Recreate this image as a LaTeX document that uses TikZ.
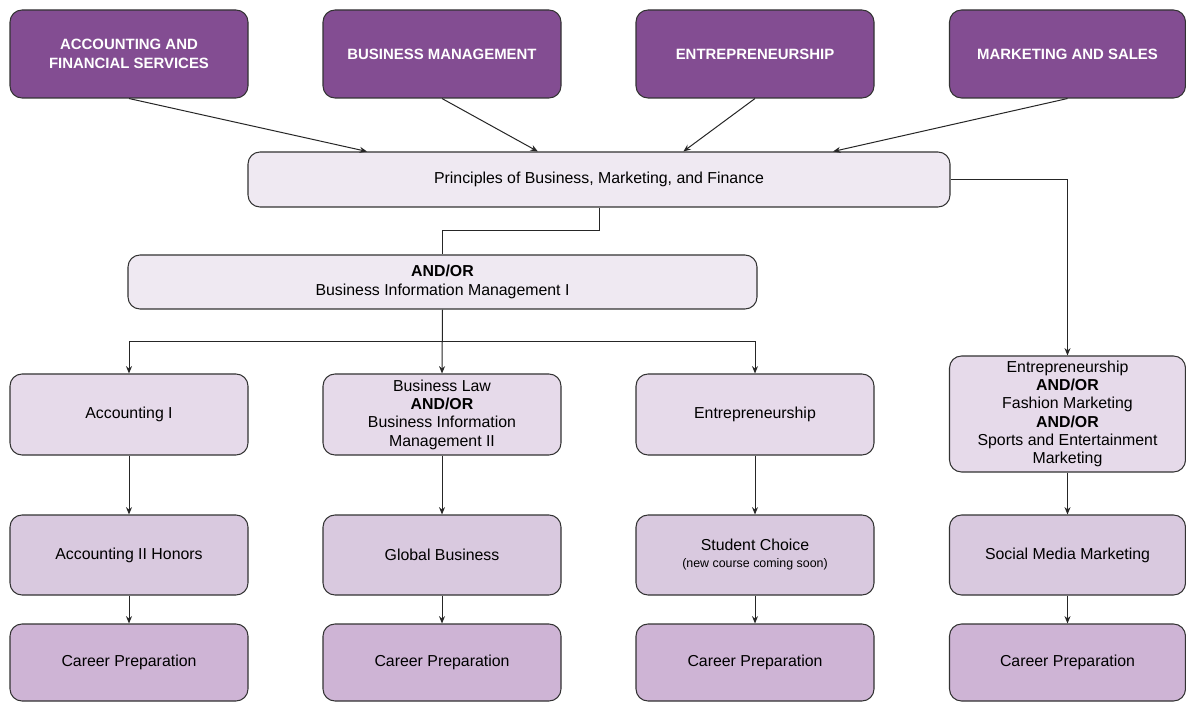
\documentclass[tikz,border=0pt]{standalone}
\usepackage{fontspec}
\setmainfont{Liberation Sans}
\usetikzlibrary{arrows.meta,calc}
\definecolor{topfill}{HTML}{834D92}
\definecolor{lightfill}{HTML}{EFE9F2}
\definecolor{rowtwo}{HTML}{E6DAEA}
\definecolor{rowthree}{HTML}{D9C9DF}
\definecolor{rowfour}{HTML}{CEB4D5}
\definecolor{edge}{HTML}{333333}
\begin{document}
\begin{tikzpicture}[x=0.75pt,y=-0.75pt,
  box/.style={draw=edge, line width=0.8pt, rounded corners=9pt, align=center, inner sep=0pt,
    font=\fontsize{11.9}{13.7}\selectfont},
  topbox/.style={box, fill=topfill, text=white, font=\fontsize{11.2}{14.2}\selectfont\bfseries,
    minimum width=178.5pt, minimum height=66pt},
  widebox/.style={box, fill=lightfill},
  colbox/.style={box, minimum width=178.5pt},
  arr/.style={-{Stealth[length=5.5pt,width=4.5pt]}, line width=0.75pt, draw=black!85},
  ln/.style={line width=0.75pt, draw=black!85}
]
\fill[white] (0,0) rectangle (1186,702);
\useasboundingbox (0,0) rectangle (1186,702);

% top row
\node[topbox] (t1) at (129,54) {ACCOUNTING AND\\FINANCIAL SERVICES};
\node[topbox] (t2) at (442,54) {BUSINESS MANAGEMENT};
\node[topbox] (t3) at (755,54) {ENTREPRENEURSHIP};
\node[topbox, minimum width=177pt] (t4) at (1067.5,54) {MARKETING AND SALES};

% wide boxes
\node[widebox, minimum width=526.5pt, minimum height=41.25pt] (pr) at (599,179.5)
  {Principles of Business, Marketing, and Finance};
\node[widebox, minimum width=471.75pt, minimum height=40.5pt] (ao) at (442.5,282)
  {\textbf{AND/OR}\\Business Information Management I};

% row two
\node[colbox, fill=rowtwo, minimum height=60.75pt] (a1) at (129,414.5) {Accounting I};
\node[colbox, fill=rowtwo, minimum height=60.75pt] (b1) at (442,414.5)
  {Business Law\\\textbf{AND/OR}\\Business Information\\Management II};
\node[colbox, fill=rowtwo, minimum height=60.75pt] (e1) at (755,414.5) {Entrepreneurship};
\node[colbox, fill=rowtwo, minimum width=177pt, minimum height=87pt] (m1) at (1067.5,414)
  {Entrepreneurship\\\textbf{AND/OR}\\Fashion Marketing\\\textbf{AND/OR}\\Sports and Entertainment\\Marketing};

% row three
\node[colbox, fill=rowthree, minimum height=60pt] (a2) at (129,555) {Accounting II Honors};
\node[colbox, fill=rowthree, minimum height=60pt] (b2) at (442,555) {Global Business};
\node[colbox, fill=rowthree, minimum height=60pt] (e2) at (755,555)
  {Student Choice\\[-1pt]{\fontsize{9.3}{11}\selectfont (new course coming soon)}};
\node[colbox, fill=rowthree, minimum width=177pt, minimum height=60pt] (m2) at (1067.5,555)
  {Social Media Marketing};

% row four
\node[colbox, fill=rowfour, minimum height=57.75pt] (a3) at (129,662.5) {Career Preparation};
\node[colbox, fill=rowfour, minimum height=57.75pt] (b3) at (442,662.5) {Career Preparation};
\node[colbox, fill=rowfour, minimum height=57.75pt] (e3) at (755,662.5) {Career Preparation};
\node[colbox, fill=rowfour, minimum width=177pt, minimum height=57.75pt] (m3) at (1067.5,662.5)
  {Career Preparation};

% connectors from top row
\draw[arr] (t1.south) -- ($(pr.north west)!0.170!(pr.north east)$);
\draw[arr] (t2.south) -- ($(pr.north west)!0.413!(pr.north east)$);
\draw[arr] (t3.south) -- ($(pr.north west)!0.620!(pr.north east)$);
\draw[arr] (t4.south) -- ($(pr.north west)!0.833!(pr.north east)$);

% principles to AND/OR box
\coordinate (k1) at ($(pr.south)!0.48!(ao.north)$);
\draw[ln] (pr.south) |- (k1) -| (ao.north);

% principles to right column
\draw[arr] (pr.east) -| (m1.north);

% AND/OR box to row two
\coordinate (k2) at ($(ao.south)!0.5!(b1.north)$);
\draw[ln] (ao.south) -- (k2);
\draw[arr] (k2) -| (a1.north);
\draw[arr] (k2) -- (b1.north);
\draw[arr] (k2) -| (e1.north);

% columns
\draw[arr] (a1) -- (a2);
\draw[arr] (a2) -- (a3);
\draw[arr] (b1) -- (b2);
\draw[arr] (b2) -- (b3);
\draw[arr] (e1) -- (e2);
\draw[arr] (e2) -- (e3);
\draw[arr] (m1) -- (m2);
\draw[arr] (m2) -- (m3);
\end{tikzpicture}
\end{document}
